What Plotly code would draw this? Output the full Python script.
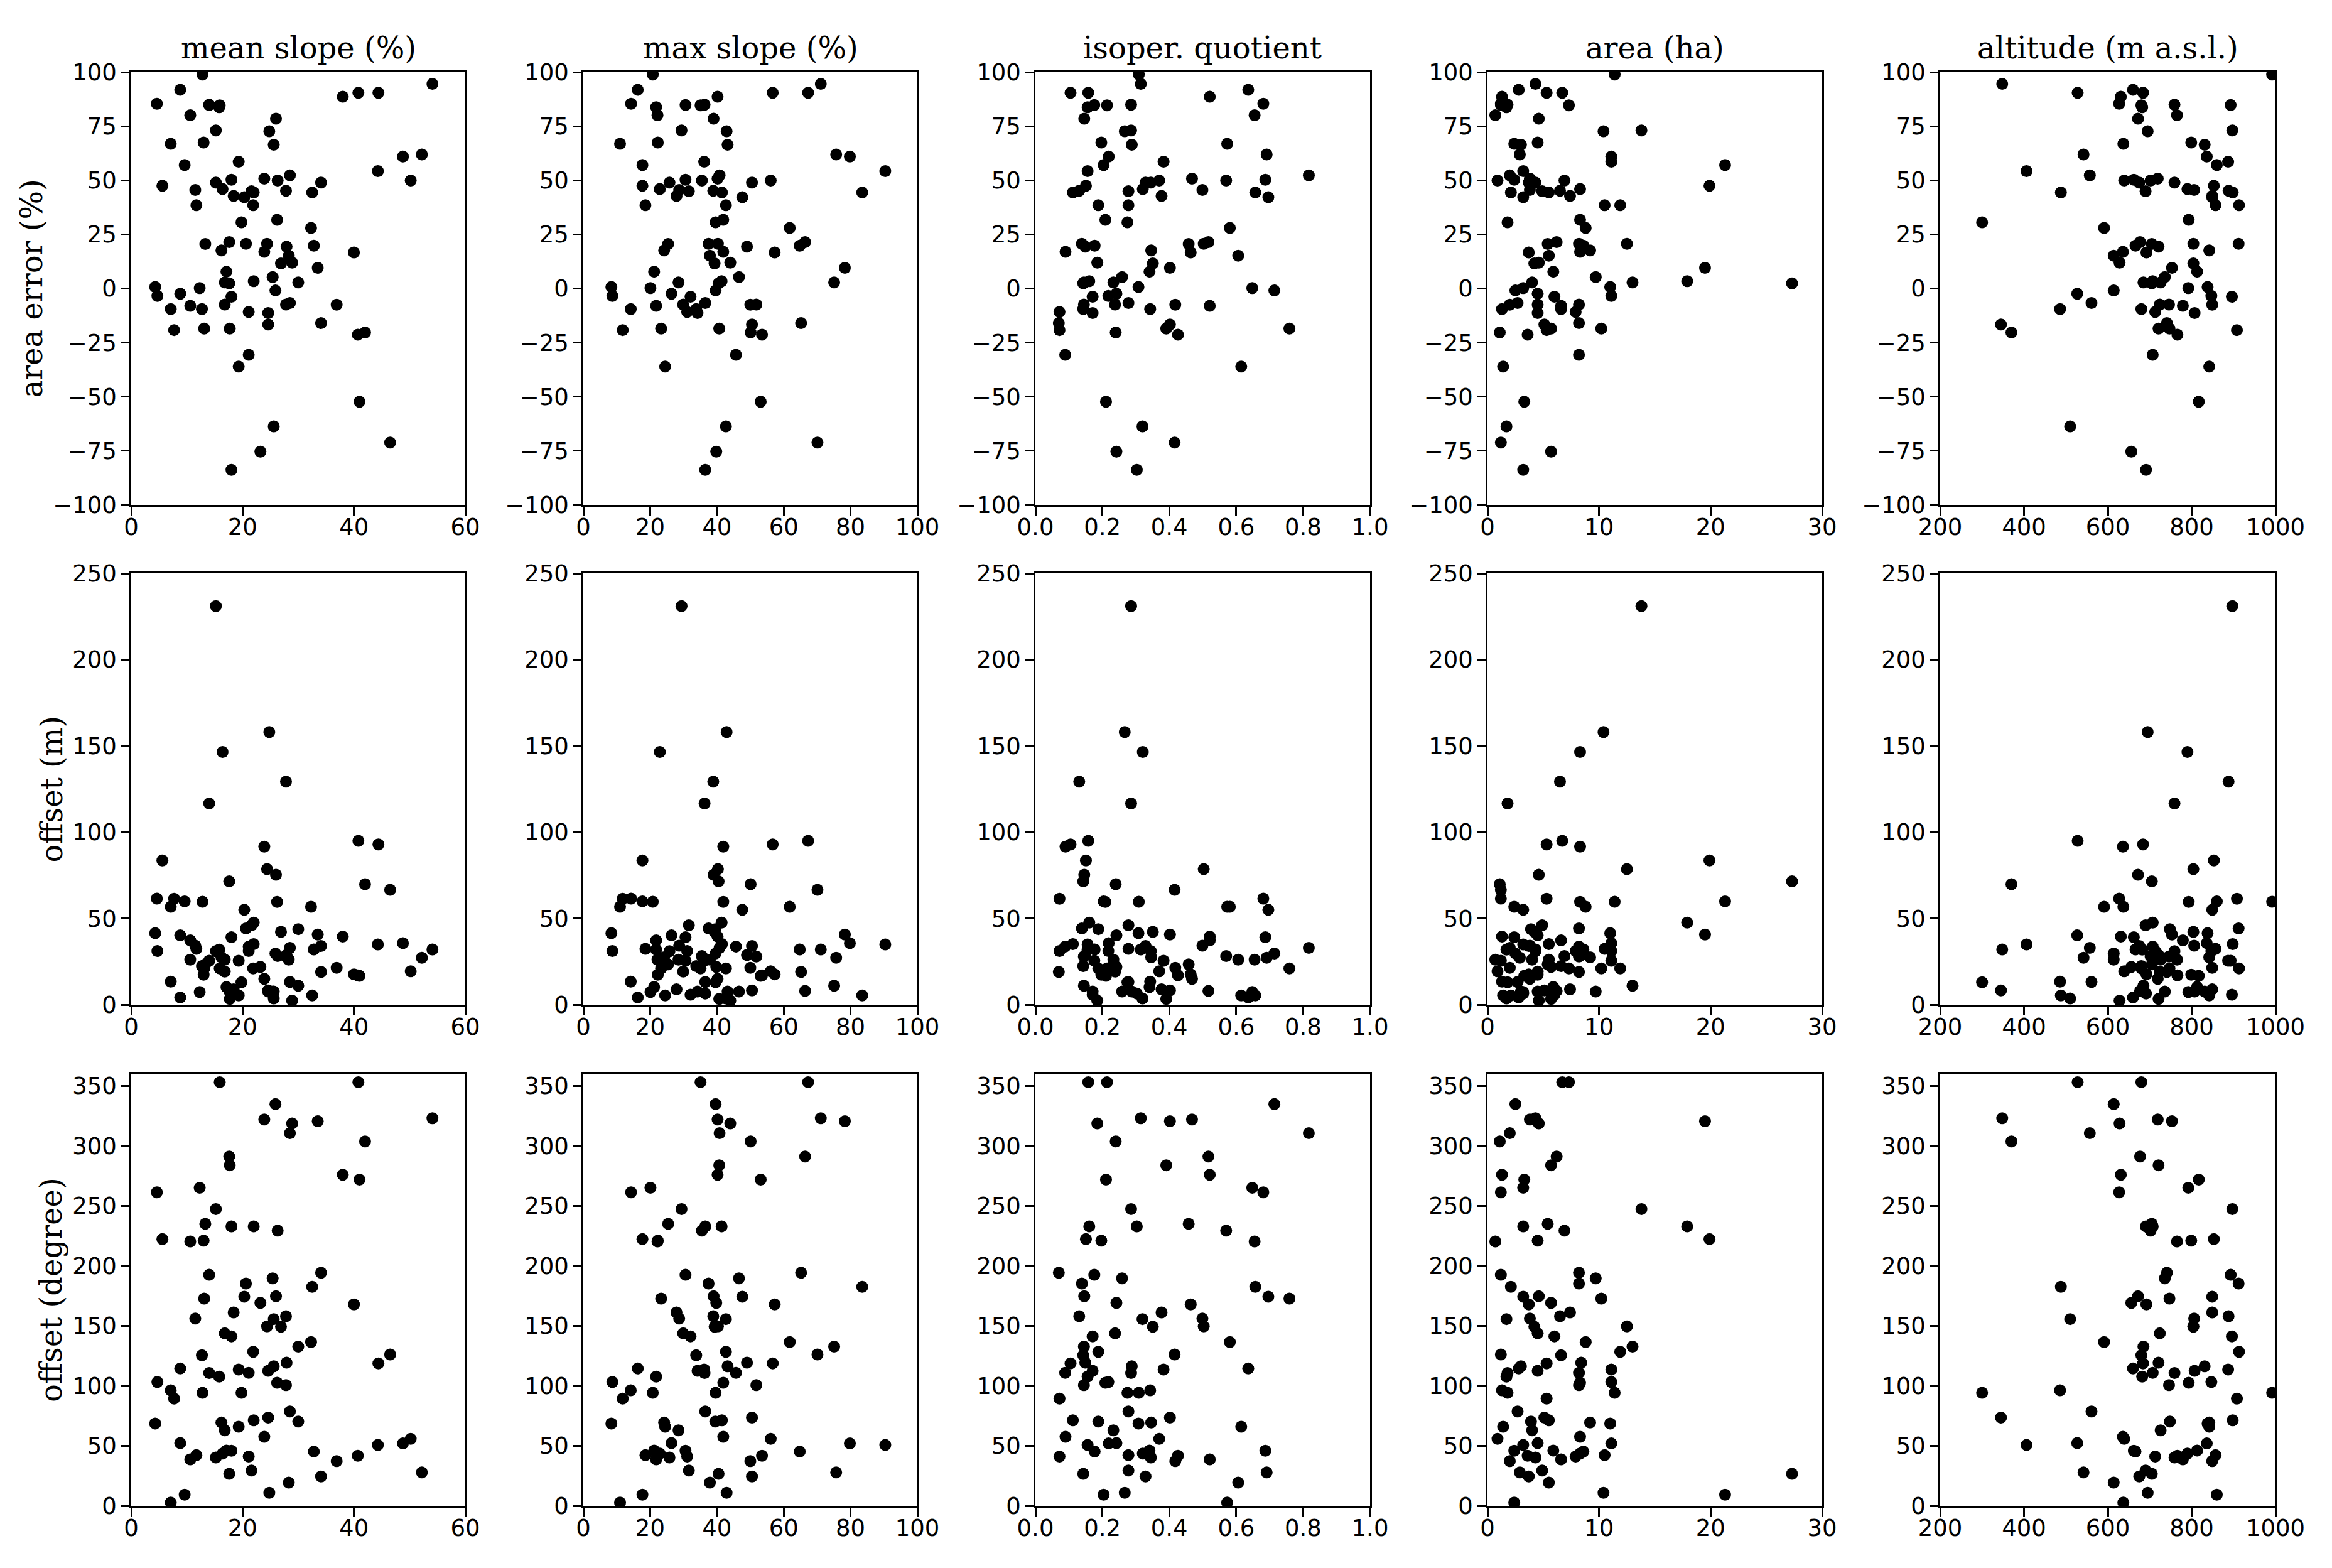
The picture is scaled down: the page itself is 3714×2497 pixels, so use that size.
import plotly.graph_objects as go

area_error = [98.9,94.6,91.9,90.5,90.5,88.7,85.4,85.0,84.8,84.7,83.8,80.1,78.5,73.1,72.7,67.5,66.9,66.5,62.0,61.0,
 58.6,57.1,54.3,52.3,50.8,50.3,49.9,49.9,49.0,49.0,47.5,46.0,45.6,45.0,45.2,44.4,44.4,42.8,42.2,38.5,
 38.5,31.8,30.6,28.0,21.5,20.6,20.7,20.7,19.8,19.4,17.6,17.0,16.7,15.2,11.6,12.0,9.6,7.8,5.3,3.4,
 2.8,2.4,2.8,0.7,0.2,-0.9,-2.4,-3.4,-3.8,-6.7,-7.4,-7.4,-7.5,-8.0,-9.5,-9.5,-10.8,-11.3,-16.6,-16.0,
 -18.5,-18.5,-19.2,-20.3,-21.3,-30.6,-36.1,-52.3,-63.7,-71.2,-75.4,-83.8,None]
mean_slope = [12.8,54.1,8.8,40.8,44.4,38.0,4.6,14.0,14.0,15.9,15.8,10.6,26.0,15.2,24.8,13.0,7.1,25.6,52.2,48.8,
 19.3,9.6,44.3,28.5,23.9,18.0,26.3,50.2,15.2,34.1,5.6,16.4,11.5,21.6,27.8,22.0,32.5,18.4,20.3,11.7,
 21.9,26.2,19.8,32.3,17.6,13.3,20.6,24.4,32.8,27.9,16.2,23.9,40.0,28.3,26.9,28.9,33.5,17.1,25.4,22.0,
 16.8,17.6,30.0,4.3,12.3,25.9,8.8,4.7,18.0,28.5,16.8,27.8,36.9,10.6,7.1,12.7,21.1,24.6,24.6,34.1,
 13.1,17.7,7.7,42.0,40.7,21.1,19.3,41.0,25.6,46.5,23.2,18.0,30.0]
max_slope = [20.8,71.1,16.3,67.3,56.7,40.2,14.3,36.3,30.6,35.1,21.8,22.2,39.0,29.4,42.9,22.3,11.0,43.2,75.7,79.8,
 36.2,17.7,90.4,40.8,40.2,30.6,35.5,56.1,25.8,50.5,17.7,22.9,28.7,31.6,38.9,41.5,83.5,27.9,47.6,18.6,
 42.7,41.9,39.6,61.8,66.4,25.4,37.5,40.3,64.8,49.0,24.2,41.9,57.3,37.9,39.3,44.0,78.3,21.2,46.6,41.4,
 28.5,40.5,75.1,8.4,20.1,39.6,26.4,8.7,32.1,36.5,29.9,51.8,50.0,21.8,14.2,33.8,31.1,34.2,50.5,65.2,
 23.3,40.7,11.8,50.1,53.5,45.7,24.5,53.1,42.7,70.1,39.8,36.5,39.5]
isoper = [0.309,0.315,0.636,0.158,0.105,0.521,0.681,0.286,0.176,0.214,0.156,0.655,0.146,0.286,0.267,0.197,0.573,0.288,0.691,0.219,
 0.383,0.204,0.156,0.817,0.468,0.687,0.570,0.370,0.345,0.329,0.151,0.321,0.499,0.278,0.131,0.112,0.657,0.377,0.696,0.278,
 0.188,0.209,0.275,0.581,0.517,0.458,0.139,0.503,0.177,0.149,0.346,0.090,0.464,0.606,0.351,0.185,0.402,0.341,0.259,0.161,
 0.233,0.143,0.145,0.308,0.648,0.714,0.242,0.218,0.171,0.278,0.238,0.145,0.418,0.521,0.343,0.143,0.072,0.171,0.402,0.070,
 0.759,0.391,0.072,0.240,0.426,0.089,0.615,0.211,0.320,0.416,0.242,0.303,0.188]
area_ha = [11.4,4.3,2.8,6.7,5.3,1.3,1.2,1.8,1.2,7.3,1.7,0.7,4.6,13.8,10.4,4.5,2.4,3.0,2.9,11.1,
 11.1,21.3,3.2,2.0,3.8,2.4,6.9,0.9,4.3,3.7,19.9,8.3,3.8,4.9,6.5,5.5,2.1,7.4,3.2,10.5,
 11.9,8.3,1.8,8.8,6.2,5.4,8.2,12.5,8.6,8.4,9.2,8.3,3.7,5.5,4.2,4.6,19.5,5.9,9.7,17.9,
 4.0,27.3,13.0,11.0,3.2,2.5,4.5,11.1,6.0,2.7,4.5,8.2,2.0,6.6,1.3,6.6,7.9,4.5,5.1,8.2,
 10.2,5.7,5.3,1.1,3.6,8.2,1.4,3.3,1.7,1.2,5.7,3.2,3.9]
altitude = [992,348,660,528,684,631,627,759,893,680,682,765,672,897,695,799,637,831,542,836,
 887,860,406,557,719,662,702,639,759,675,853,790,806,690,888,898,488,849,849,857,
 913,793,300,591,677,705,912,804,666,721,842,636,692,614,804,628,753,813,736,707,
 726,705,685,838,792,614,527,847,896,561,724,746,849,779,486,680,713,807,345,741,
 747,721,908,370,766,707,842,817,510,None,656,691,748]
offset_m = [59.7,32.0,4.2,95.0,92.9,39.5,61.5,116.6,25.5,21.0,31.9,26.1,75.3,231.0,158.0,17.4,56.8,7.6,27.2,35.7,
 25.5,59.9,34.9,32.9,15.0,39.1,28.2,19.4,31.0,34.0,83.6,146.5,34.2,46.0,129.3,35.1,5.4,8.9,55.0,32.4,
 21.0,59.6,13.0,56.8,8.0,23.4,44.2,78.6,32.0,28.8,27.5,91.6,17.6,26.1,42.2,2.4,40.7,10.3,7.6,47.6,
 26.1,71.5,11.0,41.5,7.4,29.7,40.2,31.1,5.8,13.2,19.2,27.9,21.4,37.3,13.4,22.4,31.1,7.6,8.3,19.0,
 21.0,3.4,61.4,69.9,17.0,33.7,5.4,16.7,3.6,66.6,21.9,6.5,43.8]
offset_deg = [94.2,323,114.4,353,118.7,275.9,261.2,110.7,192.5,353,107.7,220.3,174.6,247.3,10.9,220.9,2.8,116.3,27.8,52,
 113.6,9.3,50.7,310.5,321.9,45.9,229.3,55.8,40.3,24.5,222.2,43.6,156,29.4,158,71.3,182.5,161.2,174.3,42.2,
 128.3,102.6,94.2,136.4,291.1,235,185.2,149.5,45.2,119.3,69.4,57.5,167.8,19.3,149.2,318.6,320.5,46.1,189.5,232.9,
 62.9,26.7,132.6,68.6,265,334.7,52.3,103.2,141.2,78.6,143.7,100.6,37.3,38.7,96.3,125.5,41.1,112.5,73.5,194.2,
 172.7,283.8,89.3,303.6,41.7,110.8,65.9,271.8,155.6,126.1,169.1,232.8,70.2]

column_titles = ["mean slope (%)", "max slope (%)", "isoper. quotient", "area (ha)", "altitude (m a.s.l.)"]
row_titles = ["area error (%)", "offset (m)", "offset (degree)"]
x_series = [mean_slope, max_slope, isoper, area_ha, altitude]
y_series = [area_error, offset_m, offset_deg]
x_ticks = [[0,20,40,60],[0,20,40,60,80,100],[0,0.2,0.4,0.6,0.8,1.0],[0,10,20,30],[200,400,600,800,1000]]
x_ranges = [[0,60],[0,100],[0,1],[0,30],[200,1000]]
x_formats = ["d","d",".1f","d","d"]
y_ticks = [[-100,-75,-50,-25,0,25,50,75,100],[0,50,100,150,200,250],[0,50,100,150,200,250,300,350]]
y_ranges = [[-100,100],[0,250],[0,360]]

# The page body keeps its default 8 px margin, so the figure sits 8 px in from the window edge.
PAGE_MARGIN = 8
W, H = 3714 - 2*PAGE_MARGIN, 2497 - 2*PAGE_MARGIN
col_px = [(209,741),(929,1461),(1649,2182),(2369,2902),(3090,3624)]
row_px = [(115,804),(913,1600),(1710,2398)]
row_title_x = [50,81,81]

def fx(p):
    return (p - PAGE_MARGIN) / W

def fy(p):
    return 1 - (p - PAGE_MARGIN) / H

fig = go.Figure()
layout = {}
annotations = []
n = 0
for r, (top, bottom) in enumerate(row_px):
    for c, (left, right) in enumerate(col_px):
        n += 1
        sfx = "" if n == 1 else str(n)
        fig.add_trace(go.Scatter(x=x_series[c], y=y_series[r], mode="markers", xaxis="x"+sfx, yaxis="y"+sfx,
                                 marker=dict(color="black", size=19, line=dict(width=0)), showlegend=False))
        layout["xaxis"+sfx] = dict(domain=[fx(left), fx(right)], range=x_ranges[c], anchor="y"+sfx, tickmode="array",
            tickvals=x_ticks[c], tickformat=x_formats[c], ticks="outside", ticklen=14, tickwidth=2.5, tickcolor="black",
            showgrid=False, zeroline=False, showline=True, linecolor="black", linewidth=2.5, mirror=True, automargin=False,
            ticklabelstandoff=-13, tickfont=dict(family="DejaVu Sans", size=37, color="black"))
        layout["yaxis"+sfx] = dict(domain=[fy(bottom), fy(top)], range=y_ranges[r], anchor="x"+sfx, tickmode="array",
            tickvals=y_ticks[r], ticks="outside", ticklen=14, tickwidth=2.5, tickcolor="black",
            showgrid=False, zeroline=False, showline=True, linecolor="black", linewidth=2.5, mirror=True, automargin=False,
            ticklabelstandoff=-1, tickfont=dict(family="DejaVu Sans", size=37, color="black"))
        if r == 0:
            annotations.append(dict(text=column_titles[c], x=fx((left+right)/2), y=fy(top), xref="paper", yref="paper",
                                    xanchor="center", yanchor="bottom", yshift=9, showarrow=False,
                                    font=dict(family="DejaVu Serif", size=48, color="black")))
    annotations.append(dict(text=row_titles[r], x=fx(row_title_x[r]), y=fy((top+bottom)/2), xref="paper", yref="paper",
                            xanchor="center", yanchor="middle", textangle=-90, showarrow=False,
                            font=dict(family="DejaVu Serif", size=48, color="black")))

fig.update_layout(width=W, height=H, margin=dict(l=0,r=0,t=0,b=0), paper_bgcolor="white", plot_bgcolor="white",
                  annotations=annotations, **layout)
fig.write_html("out.html")
